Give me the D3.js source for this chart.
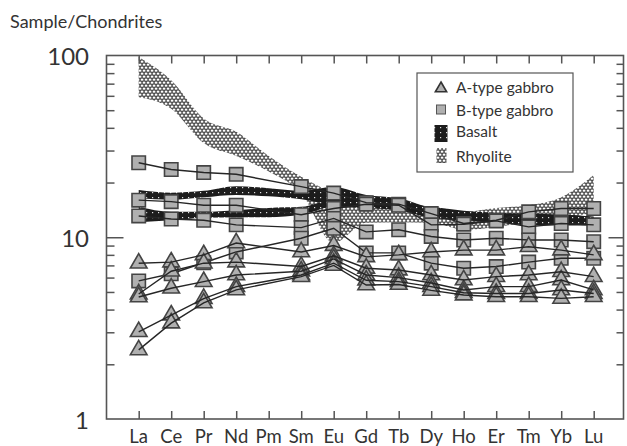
<!DOCTYPE html>
<html>
<head>
<meta charset="utf-8">
<script src="https://cdn.jsdelivr.net/npm/d3@7"></script>
<style>
  body { margin: 0; background: #fff; }
  text { font-family: Lato, "Open Sans", sans-serif; fill: #333; }
</style>
</head>
<body>
<svg id="chart" width="627" height="446"></svg>
<script>
// REE pattern, chondrite-normalised
const ELEMENTS = ["La", "Ce", "Pr", "Nd", "Pm", "Sm", "Eu", "Gd", "Tb", "Dy", "Ho", "Er", "Tm", "Yb", "Lu"];
const Y_LABELS = [1, 10, 100];
const Y_MINOR = [2, 3, 4, 5, 6, 7, 8, 9, 20, 30, 40, 50, 60, 70, 80, 90];

// field outlines (upper / lower), Pm included
const RHYOLITE_HIGH = [98, 73, 45, 38, 28, 21.5, 17.5, 15.5, 15.0, 14.5, 13.8, 14.5, 15.0, 16.6, 22];
const RHYOLITE_LOW = [59, 51, 33, 28, 23, 17.5, 9.3, 12.0, 12.1, 12.0, 11.0, 11.4, 12.1, 12.7, 13.7];
const BASALT_1_HIGH = [18.2, 17.6, 18.0, 19.1, 18.6, 18.0, 18.9, 17.1, 16.4, 14.5, 13.8, 13.6, 13.5, 13.3, 13.0];
const BASALT_1_LOW = [16.4, 16.1, 16.6, 17.1, 16.8, 16.2, 15.0, 14.5, 14.1, 12.9, 12.4, 12.2, 12.0, 11.8, 11.6];
const BASALT_2_HIGH = [14.7, 13.8, 13.8, 14.1, 14.5, 14.7, 16.0, 16.0, 15.6, 14.7, 14.0, 13.6, 13.3, 13.3, 12.9];
const BASALT_2_LOW = [12.1, 12.4, 12.8, 12.9, 12.9, 13.3, 14.7, 14.5, 14.1, 12.8, 12.4, 12.1, 11.6, 11.6, 11.6];

// gabbro samples (no Pm)
const B_TYPE_1 = [25.7, 23.6, 22.7, 22.2, null, 19.0, 17.5, 15.5, 15.2, 13.5, 11.9, 12.4, 13.8, 14.4, 14.4];
const B_TYPE_2 = [16.0, 15.7, 15.0, 15.0, null, 13.3, 14.4, 15.2, 15.0, 11.7, 11.8, 12.3, 11.4, 11.9, 11.7];
const B_TYPE_3 = [13.1, 12.6, 12.4, 11.7, null, 11.3, 12.7, 10.7, 11.0, 10.1, 9.66, 9.87, 9.66, 9.66, 9.45];
const B_TYPE_4 = [5.75, 6.3, 7.24, 8.3, null, 9.87, 11.2, 8.2, 8.2, 7.2, 6.75, 6.9, 7.3, 7.66, 7.66];
const A_TYPE_1 = [7.2, 7.3, 8.0, 9.3, null, 8.3, 9.0, 7.8, 8.0, 8.3, 8.5, 8.5, 8.87, 8.5, 8.0];
const A_TYPE_2 = [4.87, 6.5, 7.2, 7.3, null, 6.9, 7.9, 6.75, 6.6, 6.2, 5.82, 6.07, 6.2, 6.46, 6.07];
const A_TYPE_3 = [4.69, 5.24, 5.7, 6.2, null, 6.5, 7.6, 6.2, 6.0, 5.6, 5.13, 5.35, 5.35, 5.82, 5.13];
const A_TYPE_4 = [3.02, 3.73, 4.6, 5.35, null, 6.2, 7.2, 5.8, 5.7, 5.35, 4.95, 4.9, 4.9, 5.13, 4.9];
const A_TYPE_5 = [2.40, 3.37, 4.35, 5.13, null, 6.07, 7.0, 5.46, 5.5, 5.1, 4.81, 4.71, 4.71, 4.61, 4.71];

const B_TYPE = [B_TYPE_1, B_TYPE_2, B_TYPE_3, B_TYPE_4];
const A_TYPE = [A_TYPE_1, A_TYPE_2, A_TYPE_3, A_TYPE_4, A_TYPE_5];

const FRAME = { left: 106.5, right: 623.5, top: 55.5, bottom: 419 };
const MARKER_FILL = "#b0b0b0",
      MARKER_STROKE = "#444",
      LINE_COLOUR = "#262626",
      AXIS_COLOUR = "#555";

const svg = d3.select("#chart");

const x = d3.scalePoint()
    .domain(ELEMENTS)
    .range([138.7, 593.7]);
const y = d3.scaleLog()
    .domain([1, 100])
    .range([FRAME.bottom, FRAME.top]);

function toPoints(values) {
    return values
        .map((v, i) => ({ el: ELEMENTS[i], v: v }))
        .filter(d => d.v !== null);
}

function addPatterns() {
    let defs = svg.append("defs");

    // staggered little white cells on dark ground
    let rhy = defs.append("pattern")
        .attr("id", "rhyolite")
        .attr("patternUnits", "userSpaceOnUse")
        .attr("width", 4)
        .attr("height", 6);
    rhy.append("rect").attr("width", 4).attr("height", 6).attr("fill", "#333");
    [[0.7, 0.6], [2.7, 3.6], [-1.3, 3.6]].forEach(p => {
        rhy.append("rect")
            .attr("x", p[0]).attr("y", p[1])
            .attr("width", 2.7).attr("height", 2.1)
            .attr("fill", "#fff");
    });

    let bas = defs.append("pattern")
        .attr("id", "basalt")
        .attr("patternUnits", "userSpaceOnUse")
        .attr("width", 6)
        .attr("height", 5);
    bas.append("rect").attr("width", 6).attr("height", 5).attr("fill", "#1c1c1c");
    bas.append("rect").attr("x", 2).attr("y", 2).attr("width", 1.2).attr("height", 1.2).attr("fill", "#e0e0e0");
}

function drawFields() {
    let area = d3.area()
        .x((d, i) => x(ELEMENTS[i]))
        .y0(d => y(d[1]))
        .y1(d => y(d[0]))
        .curve(d3.curveMonotoneX);

    let fields = [
        [RHYOLITE_HIGH, RHYOLITE_LOW, "url(#rhyolite)"],
        [BASALT_1_HIGH, BASALT_1_LOW, "url(#basalt)"],
        [BASALT_2_HIGH, BASALT_2_LOW, "url(#basalt)"]
    ];

    fields.forEach(f => {
        svg.append("path")
            .datum(d3.zip(f[0], f[1]))
            .attr("d", area)
            .attr("fill", f[2]);
    });
}

function drawSamples(samples, symbolType, size) {
    let symbol = d3.symbol().type(symbolType).size(size);
    let line = d3.line()
        .x(d => x(d.el))
        .y(d => y(d.v));

    samples.forEach(s => {
        svg.append("g")
            .selectAll("path")
            .data(toPoints(s))
            .join("path")
            .attr("transform", d => `translate(${x(d.el)},${y(d.v)})`)
            .attr("d", symbol)
            .attr("fill", MARKER_FILL)
            .attr("stroke", MARKER_STROKE)
            .attr("stroke-width", 1.6);
    });

    // connecting lines sit over the markers, like the original
    samples.forEach(s => {
        svg.append("path")
            .datum(toPoints(s))
            .attr("d", line)
            .attr("fill", "none")
            .attr("stroke", LINE_COLOUR)
            .attr("stroke-width", 1.4);
    });
}

function drawFrame() {
    let g = svg.append("g")
        .attr("stroke", AXIS_COLOUR)
        .attr("stroke-width", 1.6);

    g.append("rect")
        .attr("x", FRAME.left)
        .attr("y", FRAME.top)
        .attr("width", FRAME.right - FRAME.left)
        .attr("height", FRAME.bottom - FRAME.top)
        .attr("fill", "none");

    // x ticks, top and bottom
    let bottomAxis = svg.append("g")
        .attr("transform", `translate(0,${FRAME.bottom})`)
        .call(d3.axisBottom(x).tickSize(-8).tickFormat(""));
    let topAxis = svg.append("g")
        .attr("transform", `translate(0,${FRAME.top})`)
        .call(d3.axisTop(x).tickSize(-8).tickFormat(""));

    // y ticks, left and right
    let leftMinor = svg.append("g")
        .attr("transform", `translate(${FRAME.left},0)`)
        .call(d3.axisLeft(y).tickValues(Y_MINOR).tickSize(-8).tickFormat(""));
    let leftMajor = svg.append("g")
        .attr("transform", `translate(${FRAME.left},0)`)
        .call(d3.axisLeft(y).tickValues([10]).tickSize(-17).tickFormat(""));
    let rightMinor = svg.append("g")
        .attr("transform", `translate(${FRAME.right},0)`)
        .call(d3.axisRight(y).tickValues(Y_MINOR).tickSize(-7).tickFormat(""));
    let rightMajor = svg.append("g")
        .attr("transform", `translate(${FRAME.right},0)`)
        .call(d3.axisRight(y).tickValues([10]).tickSize(-15).tickFormat(""));

    [bottomAxis, topAxis, leftMinor, leftMajor, rightMinor, rightMajor].forEach(a => {
        a.select(".domain").remove();
        a.selectAll("line").attr("stroke", AXIS_COLOUR).attr("stroke-width", 1.5);
    });
}

function drawLabels() {
    svg.append("g")
        .selectAll("text")
        .data(ELEMENTS)
        .join("text")
        .attr("x", d => x(d))
        .attr("y", 443)
        .attr("text-anchor", "middle")
        .attr("font-size", "18.5px")
        .text(d => d);

    svg.append("g")
        .selectAll("text")
        .data(Y_LABELS)
        .join("text")
        .attr("x", 89)
        .attr("y", d => y(d) + 9.5)
        .attr("text-anchor", "end")
        .attr("font-size", "24px")
        .text(d => d);

    svg.append("text")
        .attr("x", 10)
        .attr("y", 28)
        .attr("font-size", "18px")
        .text("Sample/Chondrites");
}

function drawLegend() {
    let g = svg.append("g");

    g.append("rect")
        .attr("x", 417)
        .attr("y", 73)
        .attr("width", 156)
        .attr("height", 99)
        .attr("fill", "#fff")
        .attr("stroke", "#555")
        .attr("stroke-width", 1.2);

    g.append("path")
        .attr("transform", "translate(441,88.5)")
        .attr("d", d3.symbol().type(d3.symbolTriangle).size(55))
        .attr("fill", MARKER_FILL)
        .attr("stroke", "#333")
        .attr("stroke-width", 1.6);
    g.append("rect")
        .attr("x", 436.5).attr("y", 105)
        .attr("width", 9).attr("height", 9)
        .attr("fill", MARKER_FILL)
        .attr("stroke", "#555")
        .attr("stroke-width", 1);
    g.append("rect")
        .attr("x", 434.5).attr("y", 125)
        .attr("width", 13).attr("height", 17)
        .attr("fill", "url(#basalt)");
    g.append("rect")
        .attr("x", 436.5).attr("y", 148)
        .attr("width", 10).attr("height", 15)
        .attr("fill", "url(#rhyolite)");

    let names = ["A-type gabbro", "B-type gabbro", "Basalt", "Rhyolite"];
    let baselines = [93, 115.5, 137, 162];
    g.selectAll("text.leg")
        .data(names)
        .join("text")
        .attr("class", "leg")
        .attr("x", 456)
        .attr("y", (d, i) => baselines[i])
        .attr("font-size", "15.5px")
        .text(d => d);
}

addPatterns();
drawFields();
drawSamples(B_TYPE, d3.symbolSquare, 180);
drawSamples(A_TYPE, d3.symbolTriangle, 120);
drawFrame();
drawLabels();
drawLegend();
</script>
</body>
</html>
